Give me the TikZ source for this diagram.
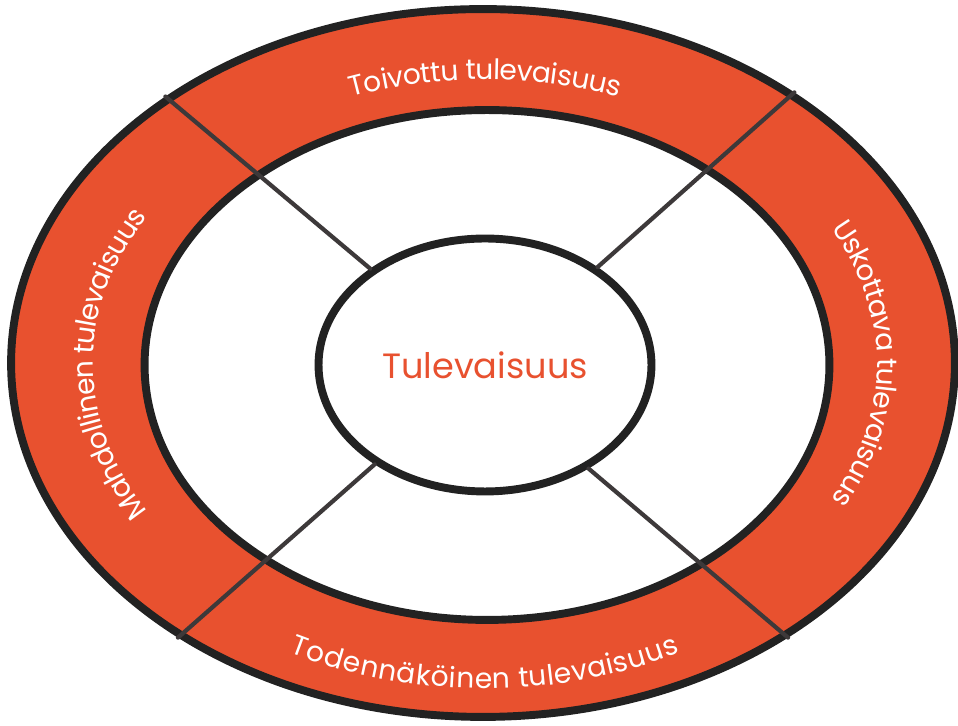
\documentclass[tikz,border=0pt]{standalone}
\usepackage{fontspec}
\setmainfont{Poppins}
\usetikzlibrary{shapes.geometric,decorations.text}
\definecolor{ringred}{HTML}{E8512F}
\definecolor{rimgray}{HTML}{222222}
\definecolor{spokegray}{HTML}{3D393A}
\newcommand\bandfont{\fontsize{16pt}{18pt}\selectfont}
\tikzset{
  rim/.style={draw=rimgray, line width=4.5pt},
  spokeline/.style={draw=spokegray, line width=2.4pt},
  bandtext/.style={decorate, decoration={text along path, text align=center, text color=white, raise=-0.3cm}}
}
\begin{document}
\begin{tikzpicture}[x=0.02cm, y=0.02cm, line join=round, line cap=round]
\useasboundingbox (0,0) rectangle (958,726);
\node[ellipse, rim, fill=ringred, minimum width=18.88cm, minimum height=14.16cm] (ring) at (483,363) {};
\node[ellipse, rim, fill=white, minimum width=13.7cm, minimum height=10.2cm] (band) at (487,361) {};
\node[ellipse, rim, fill=white, minimum width=6.66cm, minimum height=5.06cm,
  text=ringred, font=\fontsize{20pt}{24pt}\selectfont] (core) at (485,361) {Tulevaisuus};
\foreach \a/\b in {140/140,41/41,222/222,318/315}
  \draw[spokeline] (ring.\a) -- (core.\b);
\path[bandtext, decoration={raise=-0.4cm, text={|\bandfont|Toivottu tulevaisuus}}]
  (485,362) ++(150:407 and 304.5) arc[start angle=150, end angle=30, x radius=407, y radius=304.5];
\path[bandtext, decoration={text={|\bandfont|Uskottava tulevaisuus}}]
  (485,362) ++(60:407 and 304.5) arc[start angle=60, end angle=-60, x radius=407, y radius=304.5];
\path[bandtext, decoration={raise=-0.4cm, text={|\bandfont|Todennäköinen tulevaisuus}}]
  (485,362) ++(210:407 and 304.5) arc[start angle=210, end angle=330, x radius=407, y radius=304.5];
\path[bandtext, decoration={text={|\bandfont|Mahdollinen tulevaisuus}}]
  (485,362) ++(240:407 and 304.5) arc[start angle=240, end angle=120, x radius=407, y radius=304.5];
\end{tikzpicture}
\end{document}
